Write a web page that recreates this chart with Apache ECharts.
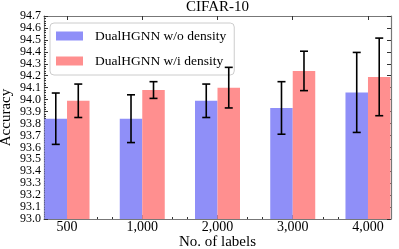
<!DOCTYPE html>
<html><head><meta charset="utf-8">
<script src="https://cdn.jsdelivr.net/npm/echarts@6/dist/echarts.min.js"></script>
<style>html,body{margin:0;padding:0;background:#fff}#c{width:399px;height:249px}</style>
</head><body><div id="c"></div>
<script>
const categories = ['500', '1,000', '2,000', '3,000', '4,000'];
const woMean = [93.84, 93.84, 93.99, 93.93, 94.06];
const woErr  = [0.215, 0.20, 0.14, 0.22, 0.335];
const wiMean = [93.99, 94.08, 94.10, 94.24, 94.19];
const wiErr  = [0.14, 0.07, 0.17, 0.165, 0.325];
const seriesNames = ['DualHGNN w/o density', 'DualHGNN w/i density'];
const yMin = 93.0, yMax = 94.7, yStep = 0.1;

const FONT = 'Liberation Serif';
const BAR_W = 22.5;
const colors = ['rgb(143,143,248)', 'rgb(255,143,143)'];
const idx = categories.map((c, i) => i);
const minorX = [];
for (let k = -1; k <= categories.length - 1; k++) {
  for (let j = 1; j <= 4; j++) {
    const v = +(k + j * 0.2).toFixed(2);
    if (v > -0.306 && v < categories.length - 1 + 0.306) minorX.push(v);
  }
}
const axisCol = '#777';
const xmin = -0.306, xmax = categories.length - 1 + 0.306;

function errData(means, errs, side) {
  return means.map((m, i) => [i, m - errs[i], m + errs[i], side]);
}
function renderErr(params, api) {
  const x = api.value(0), lo = api.value(1), hi = api.value(2), side = api.value(3);
  const off = side * BAR_W / 2;
  const pLo = api.coord([x, lo]), pHi = api.coord([x, hi]);
  const cx = pLo[0] + off, cap = 4;
  const st = {stroke: '#000', lineWidth: 1.6};
  return {type: 'group', children: [
    {type: 'line', shape: {x1: cx, y1: pLo[1], x2: cx, y2: pHi[1]}, style: st},
    {type: 'line', shape: {x1: cx - cap, y1: pLo[1], x2: cx + cap, y2: pLo[1]}, style: st},
    {type: 'line', shape: {x1: cx - cap, y1: pHi[1], x2: cx + cap, y2: pHi[1]}, style: st}
  ]};
}

const chart = echarts.init(document.getElementById('c'), null, {renderer: 'canvas'});
chart.setOption({
  animation: false,
  textStyle: {fontFamily: FONT, color: '#000'},
  title: {text: 'CIFAR-10', left: 217.5, textAlign: 'center', top: 0, padding: 0,
    textStyle: {fontFamily: FONT, fontSize: 15, fontWeight: 'normal', color: '#000'}},
  grid: {left: 44, right: 8, top: 16, bottom: 30, containLabel: false, outerBoundsMode: 'none'},
  legend: {
    data: seriesNames, orient: 'vertical', left: 50, top: 23,
    icon: 'rect', itemWidth: 27, itemHeight: 9, itemGap: 11,
    padding: [6, 8, 7, 6], borderColor: '#ccc', borderWidth: 1, borderRadius: 4,
    backgroundColor: 'rgba(255,255,255,0.8)',
    textStyle: {fontFamily: FONT, fontSize: 13.5, color: '#000', padding: [0, 0, 0, 7]}
  },
  xAxis: [
    {type: 'value', min: xmin, max: xmax, position: 'bottom',
      name: 'No. of labels', nameLocation: 'middle', nameGap: 15.5, nameMoveOverlap: false,
      nameTextStyle: {fontFamily: FONT, fontSize: 15, color: '#000'},
      axisLine: {show: true, onZero: false, lineStyle: {color: axisCol, width: 1.2}},
      axisTick: {show: true, inside: true, length: 4, customValues: idx, lineStyle: {color: '#333'}},
      axisLabel: {show: true, customValues: idx, margin: 1, fontFamily: FONT, fontSize: 14, color: '#000',
        formatter: v => categories[Math.round(v)]},
      splitLine: {show: false}},
    {type: 'value', min: xmin, max: xmax, position: 'top',
      axisLine: {show: true, onZero: false, lineStyle: {color: axisCol, width: 1.2}},
      axisTick: {show: true, inside: true, length: 4, customValues: idx, lineStyle: {color: '#333'}},
      axisLabel: {show: false}, splitLine: {show: false}},
    {type: 'value', min: xmin, max: xmax, position: 'bottom',
      axisLine: {show: false, onZero: false},
      axisTick: {show: true, inside: true, length: 2, customValues: minorX, lineStyle: {color: '#333'}},
      axisLabel: {show: false}, splitLine: {show: false}}
  ],
  yAxis: [
    {type: 'value', min: yMin, max: yMax, interval: yStep, position: 'left',
      name: 'Accuracy', nameLocation: 'middle', nameGap: 30, nameMoveOverlap: false,
      nameTextStyle: {fontFamily: FONT, fontSize: 15, color: '#000'},
      axisLine: {show: true, onZero: false, lineStyle: {color: axisCol, width: 1.2}},
      axisTick: {show: true, inside: true, length: 4, lineStyle: {color: '#333'}},
      minorTick: {show: true, splitNumber: 5, length: 2, lineStyle: {color: '#333'}},
      axisLabel: {margin: 3, fontFamily: FONT, fontSize: 12, color: '#000', hideOverlap: false,
        showMinLabel: true, showMaxLabel: true, formatter: v => v.toFixed(1)},
      splitLine: {show: false}, minorSplitLine: {show: false}},
    {type: 'value', min: yMin, max: yMax, interval: yStep, position: 'right',
      axisLine: {show: true, onZero: false, lineStyle: {color: axisCol, width: 1.2}},
      axisTick: {show: true, inside: true, length: 4, lineStyle: {color: '#333'}},
      axisLabel: {show: false}, splitLine: {show: false}}
  ],
  series: [
    {name: seriesNames[0], type: 'bar', xAxisIndex: 0, yAxisIndex: 0, barWidth: BAR_W, barGap: '0%',
      itemStyle: {color: colors[0]}, data: woMean.map((v, i) => [i, v])},
    {name: seriesNames[1], type: 'bar', xAxisIndex: 0, yAxisIndex: 0, barWidth: BAR_W, barGap: '0%',
      itemStyle: {color: colors[1]}, data: wiMean.map((v, i) => [i, v])},
    {type: 'custom', xAxisIndex: 0, yAxisIndex: 0, z: 5, renderItem: renderErr,
      data: errData(woMean, woErr, -1).concat(errData(wiMean, wiErr, 1))}
  ]
});
</script></body></html>
